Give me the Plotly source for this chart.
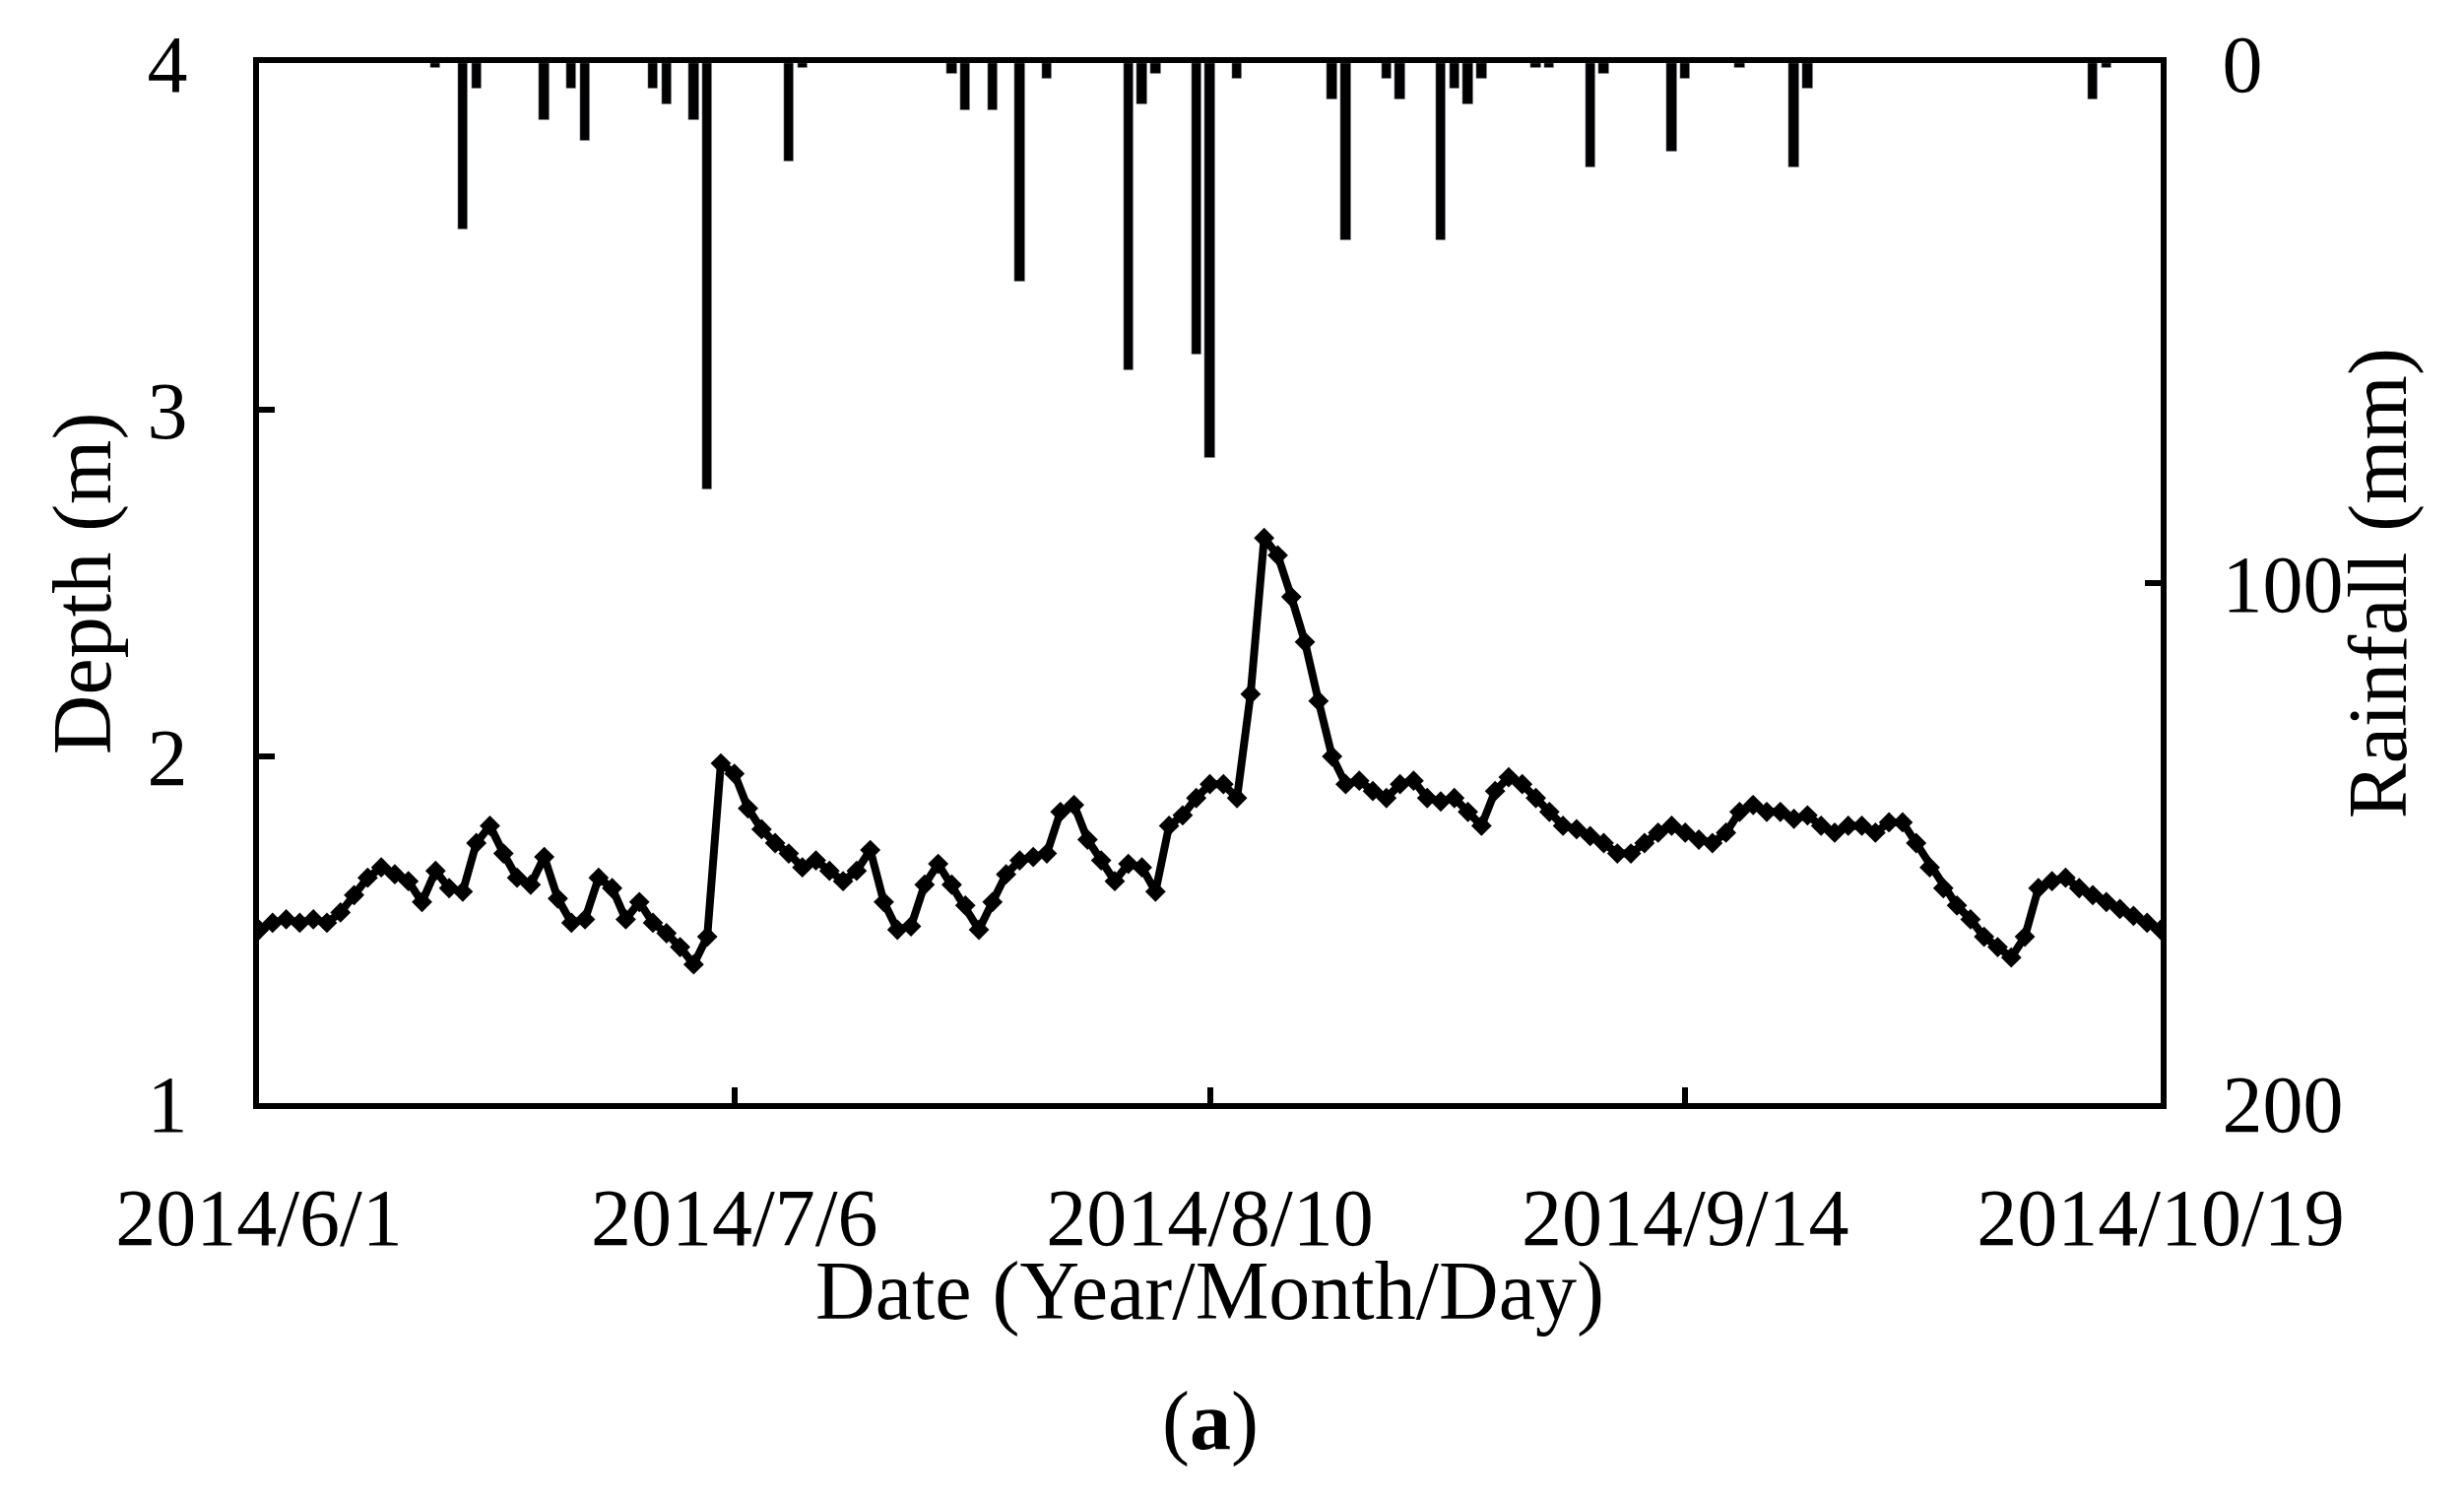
import plotly.graph_objects as go
import pandas as pd

start = pd.Timestamp("2014-06-01")
depth = [1.50,1.52,1.53,1.52,1.53,1.52,1.55,1.60,1.65,1.68,1.66,1.64,1.58,1.67,1.62,1.61,1.75,1.80,1.72,1.65,
         1.63,1.71,1.59,1.52,1.53,1.65,1.62,1.53,1.58,1.52,1.49,1.45,1.40,1.48,1.98,1.95,1.85,1.79,1.75,1.72,
         1.68,1.70,1.67,1.64,1.67,1.73,1.58,1.50,1.51,1.63,1.69,1.63,1.57,1.50,1.58,1.66,1.70,1.71,1.72,1.84,
         1.86,1.76,1.70,1.64,1.69,1.68,1.61,1.80,1.83,1.88,1.92,1.92,1.88,2.18,2.63,2.58,2.46,2.33,2.16,2.00,
         1.92,1.93,1.90,1.88,1.92,1.93,1.88,1.87,1.88,1.84,1.80,1.90,1.94,1.92,1.88,1.84,1.80,1.79,1.77,1.75,
         1.72,1.72,1.75,1.78,1.80,1.78,1.76,1.75,1.78,1.84,1.86,1.84,1.84,1.82,1.83,1.80,1.78,1.80,1.80,1.78,
         1.81,1.81,1.75,1.68,1.62,1.57,1.53,1.48,1.45,1.42,1.48,1.62,1.64,1.65,1.62,1.60,1.58,1.56,1.54,1.52,1.50]
dates = pd.date_range(start, periods=len(depth), freq="D")

rain_day = [13,15,16,21,23,24,29,30,32,33,39,40,51,52,54,56,58,64,65,66,69,70,72,79,80,83,84,87,88,89,90,
            94,95,98,99,104,105,109,113,114,135,136]
rain_mm = [1,32,5,11,5,15,5,8,11,82,19,1,2,9,9,42,3,59,8,2,56,76,3,7,34,3,7,34,5,8,3,
           1,1,20,2,17,3,1,20,5,7,1]
rain_dates = [start + pd.Timedelta(days=d) for d in rain_day]

tick_dates = ["2014-06-01","2014-07-06","2014-08-10","2014-09-14","2014-10-19"]
tick_text = ["2014/6/1","2014/7/6","2014/8/10","2014/9/14","2014/10/19"]

font = "Liberation Serif, Times New Roman, serif"
fig = go.Figure()
fig.add_trace(go.Bar(x=rain_dates, y=rain_mm, yaxis="y2", marker_color="black",
                     width=0.75*86400000, showlegend=False))
fig.add_trace(go.Scatter(x=dates, y=depth, mode="lines+markers", line=dict(color="black", width=8),
                         marker=dict(symbol="diamond", size=16, color="black"), showlegend=False))

ax = dict(showline=True, linecolor="black", linewidth=6, ticks="inside", ticklen=16, tickwidth=6,
          tickcolor="black", showgrid=False, zeroline=False, tickfont=dict(family=font, size=82, color="black"))
fig.update_layout(
    width=2502, height=1525, plot_bgcolor="white", paper_bgcolor="white",
    margin=dict(l=255, r=316, t=53, b=413), bargap=0,
    xaxis=dict(**ax, range=[pd.Timestamp("2014-06-01"), pd.Timestamp("2014-10-19")], mirror=True,
               tickvals=tick_dates, ticktext=tick_text, ticklabelstandoff=40),
    yaxis=dict(**ax, range=[1, 4], dtick=1, ticklabelstandoff=50),
    yaxis2=dict(**ax, range=[200, 0], overlaying="y", side="right", tickvals=[0, 100, 200],
                ticklabelstandoff=40),
    annotations=[
        dict(text="Date (Year/Month/Day)", x=0.5, y=-0.227, xref="paper", yref="paper", showarrow=False,
             font=dict(family=font, size=84, color="black")),
        dict(text="(<b>a</b>)", x=0.5, y=-0.352, xref="paper", yref="paper", showarrow=False,
             font=dict(family=font, size=84, color="black")),
        dict(text="Depth (m)", x=-0.118, y=0.5, xref="paper", yref="paper", showarrow=False, textangle=-90,
             font=dict(family=font, size=84, color="black")),
        dict(text="Rainfall (mm)", x=1.14, y=0.5, xref="paper", yref="paper", showarrow=False, textangle=-90,
             font=dict(family=font, size=84, color="black")),
    ],
)
fig.write_html("out.html")
